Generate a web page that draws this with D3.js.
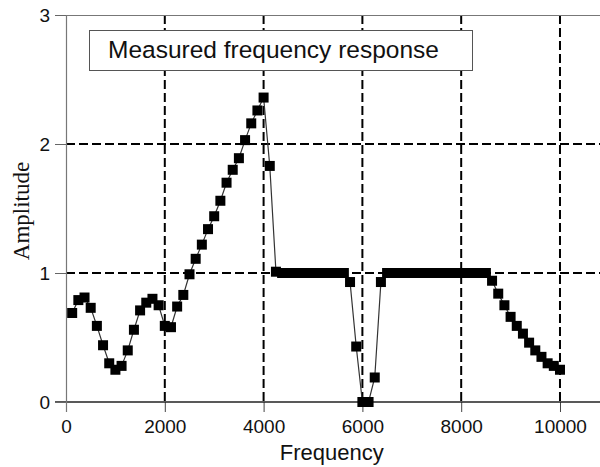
<!DOCTYPE html>
<html>
<head>
<meta charset="utf-8">
<script src="https://cdn.jsdelivr.net/npm/d3@7"></script>
<style>
  body { margin: 0; background: #fff; }
  svg { display: block; }
</style>
</head>
<body>
<div id="area"></div>
<script>
let freqs = [
  125, 250, 375, 500, 625, 750, 875, 1000, 1125, 1250,
  1375, 1500, 1625, 1750, 1875, 2000, 2125, 2250, 2375, 2500,
  2625, 2750, 2875, 3000, 3125, 3250, 3375, 3500, 3625, 3750,
  3875, 4000, 4125, 4250, 4375, 4500, 4625, 4750, 4875, 5000,
  5125, 5250, 5375, 5500, 5625, 5750, 5875, 6000, 6125, 6250,
  6375, 6500, 6625, 6750, 6875, 7000, 7125, 7250, 7375, 7500,
  7625, 7750, 7875, 8000, 8125, 8250, 8375, 8500, 8625, 8750,
  8875, 9000, 9125, 9250, 9375, 9500, 9625, 9750, 9875, 10000
];

let amps = [
  0.69, 0.79, 0.81, 0.73, 0.59, 0.44, 0.30, 0.25, 0.28, 0.40,
  0.56, 0.71, 0.77, 0.80, 0.75, 0.59, 0.58, 0.74, 0.83, 0.99,
  1.11, 1.22, 1.34, 1.44, 1.56, 1.70, 1.80, 1.89, 2.03, 2.16,
  2.26, 2.36, 1.83, 1.01, 1.00, 1.00, 1.00, 1.00, 1.00, 1.00,
  1.00, 1.00, 1.00, 1.00, 1.00, 0.93, 0.43, 0.00, 0.00, 0.19,
  0.93, 1.00, 1.00, 1.00, 1.00, 1.00, 1.00, 1.00, 1.00, 1.00,
  1.00, 1.00, 1.00, 1.00, 1.00, 1.00, 1.00, 1.00, 0.94, 0.84,
  0.75, 0.66, 0.59, 0.53, 0.46, 0.40, 0.35, 0.30, 0.28, 0.25
];

let xTicks = [0, 2000, 4000, 6000, 8000, 10000];
let yTicks = [0, 1, 2, 3];
let xGrid  = [2000, 4000, 6000, 8000, 10000];
let yGrid  = [1, 2];

let legendText = "Measured frequency response";

let margin = { top: 15, right: 0, bottom: 65, left: 66 };
let exteriorWidth  = 600,
    exteriorHeight = 467;
let interiorWidth  = exteriorWidth - margin.left - margin.right,
    interiorHeight = exteriorHeight - margin.top - margin.bottom;

let data = freqs.map((f, i) => ({ f: f, a: amps[i] }));

let svg =
  d3.select("#area")
    .append("svg")
      .attr("width", exteriorWidth)
      .attr("height", exteriorHeight);

let g = svg.append("g")
    .attr("transform", translate(margin.left, margin.top));

let x = d3.scaleLinear()
    .domain([0, 10810])
    .range([0, interiorWidth]);

let y = d3.scaleLinear()
    .domain([0, 3])
    .range([interiorHeight, 0]);

let tickFont = "'Liberation Sans', Arial, sans-serif";

// grid
g.selectAll(".vgrid")
  .data(xGrid)
  .enter().append("line")
    .attr("x1", d => x(d)).attr("x2", d => x(d))
    .attr("y1", 0).attr("y2", interiorHeight)
    .attr("stroke", "#000")
    .attr("stroke-width", 2)
    .attr("stroke-dasharray", "9,4");

g.selectAll(".hgrid")
  .data(yGrid)
  .enter().append("line")
    .attr("x1", 0).attr("x2", interiorWidth)
    .attr("y1", d => y(d)).attr("y2", d => y(d))
    .attr("stroke", "#000")
    .attr("stroke-width", 2)
    .attr("stroke-dasharray", "9,4");

// frame (top, grey)
g.append("line")
    .attr("x1", 0).attr("x2", interiorWidth)
    .attr("y1", 0.5).attr("y2", 0.5)
    .attr("stroke", "#777").attr("stroke-width", 1);

// axes
let xAxis = g.append("g")
    .attr("transform", translate(0, interiorHeight))
    .call(d3.axisBottom(x).tickValues(xTicks).tickSize(10).tickPadding(8).tickFormat(d3.format("d")));
xAxis.select(".domain").remove();
xAxis.append("line")
    .attr("x1", -11).attr("x2", interiorWidth)
    .attr("stroke", "#222").attr("stroke-width", 1.3);
xAxis.selectAll(".tick line").attr("stroke", "#444");
xAxis.selectAll("text")
    .attr("fill", "#111")
    .style("font-family", tickFont)
    .style("font-size", "19px");

let yAxis = g.append("g")
    .call(d3.axisLeft(y).tickValues(yTicks).tickSize(11).tickPadding(5).tickFormat(d3.format("d")));
yAxis.select(".domain").remove();
yAxis.append("line")
    .attr("x1", 0.5).attr("x2", 0.5)
    .attr("y1", 0).attr("y2", interiorHeight + 10)
    .attr("stroke", "#777").attr("stroke-width", 1.2);
yAxis.selectAll(".tick line").attr("stroke", "#666");
yAxis.selectAll("text")
    .attr("fill", "#111")
    .style("font-family", tickFont)
    .style("font-size", "19px");

// data line + markers
let line = d3.line()
    .x(d => x(d.f))
    .y(d => y(d.a));

g.append("path")
    .datum(data)
    .attr("fill", "none")
    .attr("stroke", "#333")
    .attr("stroke-width", 1.2)
    .attr("d", line);

let ms = 10;
g.selectAll(".pt")
  .data(data)
  .enter().append("rect")
    .attr("x", d => x(d.f) - ms / 2)
    .attr("y", d => y(d.a) - ms / 2)
    .attr("width", ms)
    .attr("height", ms)
    .attr("fill", "#000");

// legend
svg.append("rect")
    .attr("x", 89.5).attr("y", 30.5)
    .attr("width", 383).attr("height", 40)
    .attr("fill", "#fff")
    .attr("stroke", "#555")
    .attr("stroke-width", 1);

svg.append("text")
    .attr("x", 108).attr("y", 58)
    .style("font-family", tickFont)
    .style("font-size", "24.5px")
    .attr("fill", "#111")
    .text(legendText);

// axis titles
svg.append("text")
    .attr("x", margin.left + x(5380)).attr("y", 460)
    .attr("text-anchor", "middle")
    .style("font-family", tickFont)
    .style("font-size", "22px")
    .attr("fill", "#111")
    .text("Frequency");

svg.append("text")
    .attr("transform", "translate(29,211) rotate(-90)")
    .attr("text-anchor", "middle")
    .style("font-family", "'Liberation Serif', 'Times New Roman', serif")
    .style("font-size", "23px")
    .attr("fill", "#111")
    .text("Amplitude");

function translate(x, y = 0) {
  return "translate({x}, {y})"
          .replace("{x}", x)
          .replace("{y}", y);
}
</script>
</body>
</html>
